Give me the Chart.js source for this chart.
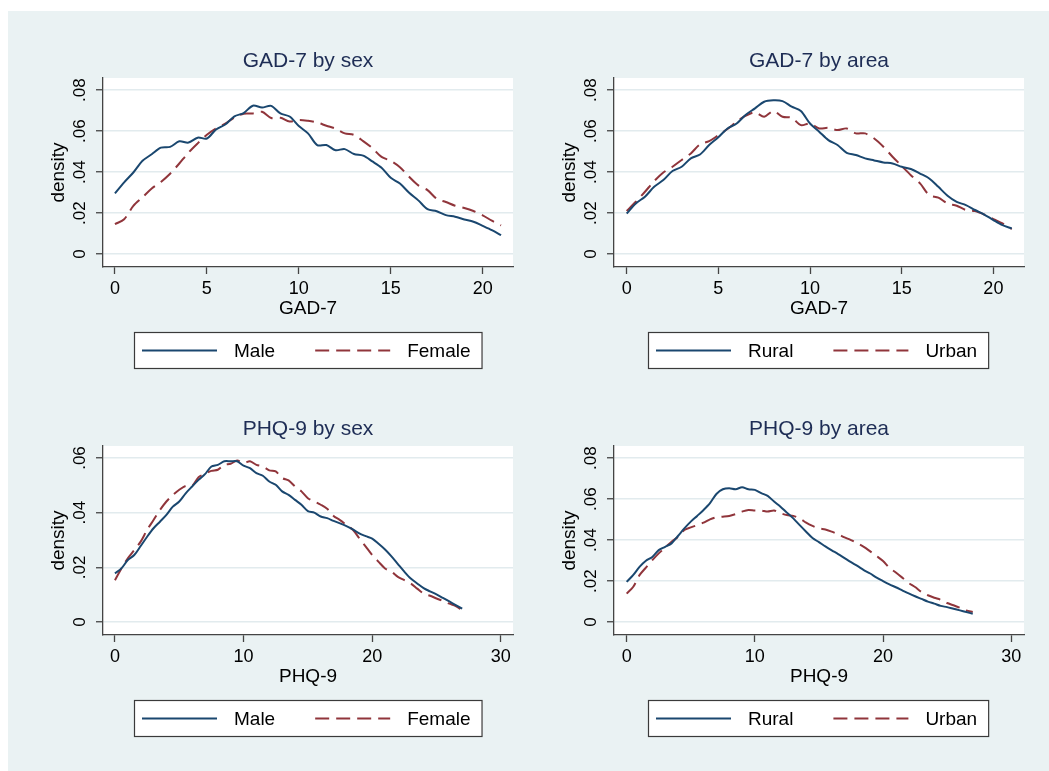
<!DOCTYPE html>
<html>
<head>
<meta charset="utf-8">
<script src="https://cdn.jsdelivr.net/npm/chart.js@4.4.1/dist/chart.umd.min.js"></script>
<style>
    body { margin: 0; background: #fff; width: 1049px; height: 771px; overflow: hidden; position: relative; }
    #fondo { position: absolute; left: 8px; top: 11px; width: 1041px; height: 760px; background: #eaf2f3; }
    canvas { position: absolute; }
</style>
</head>
<body>
<div id="fondo"></div>
<canvas id="gadSexo" width="511" height="368" style="left:8px;top:11px"></canvas>
<canvas id="gadArea" width="511" height="368" style="left:519px;top:11px"></canvas>
<canvas id="phqSexo" width="511" height="368" style="left:8px;top:379px"></canvas>
<canvas id="phqArea" width="511" height="368" style="left:519px;top:379px"></canvas>
<script>
// pontos de avaliacao das densidades
const gadScore = [0, 0.5, 1, 1.5, 2, 2.5, 3, 3.5, 4, 4.5, 5, 5.5, 6, 6.5, 7, 7.5, 8, 8.5, 9, 9.5, 10,
    10.5, 11, 11.5, 12, 12.5, 13, 13.5, 14, 14.5, 15, 15.5, 16, 16.5, 17, 17.5, 18, 18.5, 19, 19.5, 20, 20.5, 21];
const phqScore = [0, 0.5, 1, 1.5, 2, 2.5, 3, 3.5, 4, 4.5, 5, 5.5, 6, 6.5, 7, 7.5, 8, 8.5, 9, 9.5, 10,
    10.5, 11, 11.5, 12, 12.5, 13, 13.5, 14, 14.5, 15, 15.5, 16, 16.5, 17, 17.5, 18, 18.5, 19, 19.5, 20,
    20.5, 21, 21.5, 22, 22.5, 23, 23.5, 24, 24.5, 25, 25.5, 26, 26.5, 27];

const gadMale = [0.0296, 0.0350, 0.0398, 0.0455, 0.0487, 0.0519, 0.0523, 0.0550, 0.0544, 0.0568, 0.0564,
    0.0608, 0.0632, 0.0672, 0.0688, 0.0724, 0.0715, 0.0723, 0.0686, 0.0671, 0.0625, 0.0589, 0.0532, 0.0532,
    0.0507, 0.0512, 0.0488, 0.0480, 0.0452, 0.0421, 0.0372, 0.0344, 0.0299, 0.0262, 0.0219, 0.0209, 0.0190,
    0.0182, 0.0169, 0.0158, 0.0138, 0.0117, 0.0092];
const gadFemale = [0.0146, 0.0170, 0.0235, 0.0277, 0.0320, 0.0352, 0.0392, 0.0442, 0.0495, 0.0540, 0.0582,
    0.0613, 0.0636, 0.0667, 0.0685, 0.0686, 0.0694, 0.0664, 0.0665, 0.0647, 0.0654, 0.0650, 0.0642, 0.0626,
    0.0612, 0.0589, 0.0581, 0.0551, 0.0517, 0.0474, 0.0455, 0.0424, 0.0377, 0.0335, 0.0312, 0.0270, 0.0254,
    0.0236, 0.0225, 0.0210, 0.0189, 0.0163, 0.0140];
const gadRural = [0.0198, 0.0247, 0.0280, 0.0328, 0.0361, 0.0405, 0.0426, 0.0467, 0.0486, 0.0532, 0.0570,
    0.0613, 0.0637, 0.0680, 0.0711, 0.0743, 0.0750, 0.0746, 0.0719, 0.0698, 0.0637, 0.0597, 0.0556, 0.0532,
    0.0494, 0.0483, 0.0467, 0.0457, 0.0447, 0.0442, 0.0426, 0.0415, 0.0393, 0.0369, 0.0328, 0.0285, 0.0255,
    0.0239, 0.0215, 0.0193, 0.0166, 0.0141, 0.0125];
const gadUrban = [0.0210, 0.0255, 0.0304, 0.0356, 0.0398, 0.0426, 0.0459, 0.0491, 0.0535, 0.0551, 0.0580,
    0.0610, 0.0646, 0.0675, 0.0691, 0.0670, 0.0698, 0.0670, 0.0665, 0.0629, 0.0637, 0.0613, 0.0616, 0.0605,
    0.0613, 0.0589, 0.0589, 0.0564, 0.0524, 0.0475, 0.0430, 0.0385, 0.0345, 0.0288, 0.0275, 0.0247, 0.0236,
    0.0215, 0.0210, 0.0193, 0.0171, 0.0150, 0.0122];

const phqMale = [0.0178, 0.0196, 0.0227, 0.0245, 0.0278, 0.0312, 0.0343, 0.0367, 0.0392, 0.0422, 0.0441,
    0.0471, 0.0496, 0.0520, 0.0541, 0.0569, 0.0575, 0.0588, 0.0588, 0.0588, 0.0572, 0.0563, 0.0545, 0.0535,
    0.0514, 0.0502, 0.0478, 0.0465, 0.0447, 0.0429, 0.0406, 0.0400, 0.0386, 0.0380, 0.0370, 0.0361, 0.0351,
    0.0339, 0.0324, 0.0314, 0.0305, 0.0286, 0.0265, 0.0240, 0.0212, 0.0184, 0.0159, 0.0141, 0.0124, 0.0112,
    0.0101, 0.0088, 0.0075, 0.0062, 0.0049];
const phqFemale = [0.0153, 0.0196, 0.0233, 0.0263, 0.0294, 0.0337, 0.0373, 0.0410, 0.0441, 0.0465, 0.0484,
    0.0498, 0.0498, 0.0530, 0.0542, 0.0553, 0.0557, 0.0575, 0.0579, 0.0591, 0.0582, 0.0588, 0.0575, 0.0569,
    0.0555, 0.0551, 0.0527, 0.0518, 0.0496, 0.0478, 0.0453, 0.0441, 0.0429, 0.0414, 0.0388, 0.0373, 0.0355,
    0.0337, 0.0306, 0.0276, 0.0245, 0.0220, 0.0196, 0.0184, 0.0165, 0.0153, 0.0141, 0.0122, 0.0104, 0.0096,
    0.0086, 0.0077, 0.0067, 0.0058, 0.0043];
const phqRural = [0.0196, 0.0229, 0.0269, 0.0299, 0.0318, 0.0351, 0.0367, 0.0384, 0.0420, 0.0457, 0.0490,
    0.0518, 0.0547, 0.0580, 0.0625, 0.0648, 0.0653, 0.0648, 0.0658, 0.0648, 0.0645, 0.0629, 0.0616, 0.0588,
    0.0563, 0.0534, 0.0506, 0.0473, 0.0441, 0.0410, 0.0390, 0.0369, 0.0350, 0.0332, 0.0312, 0.0292, 0.0274,
    0.0254, 0.0237, 0.0217, 0.0200, 0.0184, 0.0170, 0.0155, 0.0140, 0.0126, 0.0113, 0.0100, 0.0090, 0.0079,
    0.0073, 0.0065, 0.0057, 0.0049, 0.0041];
const phqUrban = [0.0139, 0.0171, 0.0229, 0.0266, 0.0302, 0.0335, 0.0364, 0.0392, 0.0416, 0.0449, 0.0462,
    0.0473, 0.0485, 0.0501, 0.0511, 0.0514, 0.0518, 0.0527, 0.0539, 0.0547, 0.0544, 0.0544, 0.0539, 0.0544,
    0.0531, 0.0522, 0.0518, 0.0506, 0.0485, 0.0469, 0.0457, 0.0452, 0.0441, 0.0428, 0.0413, 0.0400, 0.0384,
    0.0367, 0.0345, 0.0322, 0.0298, 0.0265, 0.0242, 0.0217, 0.0191, 0.0171, 0.0147, 0.0131, 0.0119, 0.0109,
    0.0093, 0.0082, 0.0070, 0.0057, 0.0049];

const sexLabels = ["Male", "Female"];
const areaLabels = ["Rural", "Urban"];
const densityTicks = [0, 0.02, 0.04, 0.06, 0.08];

Chart.defaults.font.family = '"Liberation Sans", Arial, sans-serif';

// fundo branco so na area do grafico
const fundoPlot = {
    id: 'fundoPlot',
    beforeDraw(chart) {
        const a = chart.chartArea;
        chart.ctx.save();
        chart.ctx.fillStyle = '#ffffff';
        chart.ctx.fillRect(a.left, a.top, a.right - a.left, a.bottom - a.top);
        chart.ctx.restore();
    }
};

// legenda com moldura, estilo Stata
const legendaCaixa = {
    id: 'legendaCaixa',
    afterDraw(chart) {
        const ctx = chart.ctx;
        const a = chart.chartArea;
        const sets = chart.data.datasets;
        const amostra = 75, gap = 17, entre = 40, padL = 8, padR = 12, h = 37;
        ctx.save();
        ctx.font = '19px "Liberation Sans", Arial, sans-serif';
        let larguras = sets.map(d => amostra + gap + ctx.measureText(d.label).width);
        let total = padL + larguras[0] + entre + larguras[1] + padR;
        let left = Math.round((a.left + a.right) / 2 - total / 2);
        let top = chart.height - 47;
        ctx.fillStyle = '#ffffff';
        ctx.fillRect(left, top, total, h);
        ctx.strokeStyle = '#3a3a3a';
        ctx.lineWidth = 1.2;
        ctx.strokeRect(left + 0.5, top + 0.5, total - 1, h - 1);
        let x = left + padL;
        let cy = top + h / 2;
        sets.forEach((d, i) => {
            ctx.beginPath();
            ctx.setLineDash(d.borderDash || []);
            ctx.strokeStyle = d.borderColor;
            ctx.lineWidth = d.borderWidth;
            ctx.moveTo(x, cy);
            ctx.lineTo(x + amostra, cy);
            ctx.stroke();
            ctx.setLineDash([]);
            ctx.fillStyle = '#000000';
            ctx.textBaseline = 'middle';
            ctx.textAlign = 'left';
            ctx.fillText(d.label, x + amostra + gap, cy + 1);
            x += larguras[i] + entre;
        });
        ctx.restore();
    }
};

function fmtDensidade(v) {
    if (Math.abs(v) < 1e-9) return '0';
    return v.toFixed(2).replace(/^0/, '');
}

function criarGrafico(id, titulo, eixoX, xs, serie1, serie2, rotulos, xMin, xMax, xPasso, yMin, yMax) {
    let ctx = document.getElementById(id).getContext("2d");
    return new Chart(ctx, {
        type: 'line',
        data: {
            datasets: [{
                label: rotulos[0],
                data: xs.map((x, i) => ({ x: x, y: serie1[i] })),
                borderColor: '#1a476f',
                borderWidth: 2,
                pointRadius: 0,
                tension: 0.3,
                fill: false
            }, {
                label: rotulos[1],
                data: xs.map((x, i) => ({ x: x, y: serie2[i] })),
                borderColor: '#90353b',
                borderWidth: 2,
                borderDash: [14, 7],
                pointRadius: 0,
                tension: 0.3,
                fill: false
            }]
        },
        options: {
            responsive: false,
            animation: false,
            devicePixelRatio: 1,
            layout: { padding: { left: 0, right: 6, top: 0, bottom: 58.6 } },
            plugins: {
                legend: { display: false },
                tooltip: { enabled: false },
                title: {
                    display: true,
                    text: titulo,
                    fullSize: false,
                    color: '#1e2d55',
                    font: { size: 21, weight: 'normal' },
                    padding: { top: 37.4, bottom: 4.4 }
                }
            },
            scales: {
                x: {
                    type: 'linear',
                    min: xMin,
                    max: xMax,
                    border: { color: '#444444', width: 1.3 },
                    grid: { drawOnChartArea: false, tickLength: 7, tickColor: '#444444', tickWidth: 1.3 },
                    ticks: {
                        stepSize: xPasso,
                        includeBounds: false,
                        autoSkip: false,
                        maxRotation: 0,
                        padding: 4,
                        color: '#000000',
                        font: { size: 18 }
                    },
                    title: {
                        display: true,
                        text: eixoX,
                        color: '#000000',
                        font: { size: 19 },
                        padding: { top: -6, bottom: 0 }
                    }
                },
                y: {
                    min: yMin,
                    max: yMax,
                    afterFit: function (scale) { scale.width = 95; },
                    afterBuildTicks: function (scale) {
                        scale.ticks = densityTicks.filter(v => v <= yMax).map(v => ({ value: v }));
                    },
                    border: { color: '#444444', width: 1.3 },
                    grid: { color: '#e2ebee', lineWidth: 1.5, tickLength: 7, tickColor: '#444444', tickWidth: 1.3 },
                    ticks: {
                        minRotation: 90,
                        maxRotation: 90,
                        crossAlign: 'center',
                        padding: 4,
                        color: '#000000',
                        font: { size: 17 },
                        callback: function (value) { return fmtDensidade(value); }
                    },
                    title: {
                        display: true,
                        text: 'density',
                        color: '#000000',
                        font: { size: 19 },
                        padding: { top: 39.6, bottom: 0 }
                    }
                }
            }
        },
        plugins: [fundoPlot, legendaCaixa]
    });
}

criarGrafico("gadSexo", "GAD-7 by sex", "GAD-7", gadScore, gadMale, gadFemale, sexLabels, -0.65, 21.65, 5, -0.0063, 0.0859);
criarGrafico("gadArea", "GAD-7 by area", "GAD-7", gadScore, gadRural, gadUrban, areaLabels, -0.69, 21.67, 5, -0.0063, 0.0859);
criarGrafico("phqSexo", "PHQ-9 by sex", "PHQ-9", phqScore, phqMale, phqFemale, sexLabels, -0.93, 30.95, 10, -0.00476, 0.0644);
criarGrafico("phqArea", "PHQ-9 by area", "PHQ-9", phqScore, phqRural, phqUrban, areaLabels, -0.99, 31.0, 10, -0.0063, 0.0859);
</script>
</body>
</html>
